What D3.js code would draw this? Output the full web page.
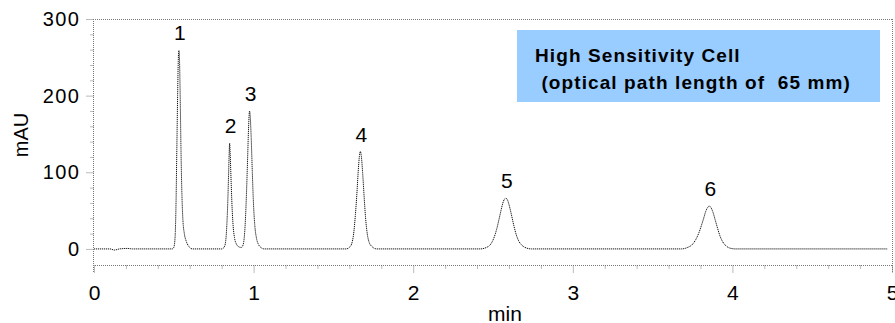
<!DOCTYPE html>
<html lang="en">
<head>
<meta charset="UTF-8">
<title>Chromatogram - High Sensitivity Cell</title>
<script src="https://d3js.org/d3.v7.min.js"></script>
<style>
  body { margin: 0; background: #fff; }
  text { font-family: "Liberation Sans", Arial, sans-serif; }
</style>
</head>
<body>
<svg id="chart" width="895" height="323"></svg>
<script>
// tick values
var xTicks = [0, 1, 2, 3, 4, 5];
var yTicks = [0, 100, 200, 300];

// peak labels (retention time in min, apex in mAU)
var peakNames = ["1", "2", "3", "4", "5", "6"];
var peakTimes = [0.532, 0.850, 0.975, 1.669, 2.580, 3.855];
var peakHeights = [259, 138, 180, 127, 66, 56];

// traced signal [min, mAU]
var trace = [
  [0.00, 0], [0.10, 0], [0.128, -1.5], [0.16, 0], [0.21, 0.6], [0.24, 0], [0.49, 0],
  [0.50, 2], [0.508, 15], [0.514, 60], [0.519, 130], [0.524, 200], [0.528, 245], [0.532, 259],
  [0.536, 245], [0.540, 200], [0.545, 130], [0.551, 70], [0.557, 38], [0.566, 20],
  [0.578, 10], [0.595, 3], [0.615, 0], [0.80, 0],
  [0.815, 2], [0.825, 10], [0.832, 30], [0.838, 60], [0.843, 95], [0.847, 125], [0.850, 138],
  [0.853, 125], [0.858, 95], [0.864, 60], [0.871, 32], [0.880, 15], [0.893, 6], [0.905, 3],
  [0.918, 2], [0.925, 2],
  [0.932, 4], [0.940, 12], [0.948, 35], [0.955, 70], [0.962, 115], [0.968, 155], [0.972, 175],
  [0.975, 180], [0.979, 172], [0.985, 145], [0.992, 100], [0.999, 60], [1.007, 32],
  [1.018, 14], [1.030, 6], [1.045, 2], [1.065, 0], [1.58, 0],
  [1.60, 2], [1.615, 7], [1.627, 20], [1.638, 45], [1.648, 75], [1.656, 103], [1.663, 121],
  [1.669, 127], [1.675, 121], [1.683, 100], [1.692, 70], [1.701, 42], [1.712, 20],
  [1.725, 8], [1.742, 3], [1.77, 0], [2.42, 0],
  [2.46, 2], [2.485, 6], [2.505, 14], [2.522, 25], [2.537, 38], [2.55, 50], [2.562, 60],
  [2.572, 65], [2.58, 66], [2.588, 65], [2.60, 58], [2.615, 45], [2.63, 31], [2.645, 19],
  [2.662, 10], [2.68, 5], [2.70, 2], [2.74, 0], [3.68, 0],
  [3.72, 2], [3.75, 6], [3.77, 12], [3.79, 21], [3.805, 30], [3.82, 40], [3.833, 49],
  [3.845, 54], [3.855, 56], [3.865, 54], [3.878, 48], [3.892, 38], [3.907, 27],
  [3.922, 17], [3.94, 9], [3.96, 4], [3.985, 1], [4.02, 0], [4.97, 0]
];

var legendLines = ["High Sensitivity Cell", " (optical path length of  65 mm)"];

var svg = d3.select("#chart");
var plotL = 93, plotR = 892, plotT = 19, plotB = 265;

var x = d3.scaleLinear().domain([0, 5]).range([94, 892]);
var y = d3.scaleLinear().domain([-21, 300]).range([plotB, plotT]);

var frameColor = "#777";

// frame
function dotted(x1, y1, x2, y2) {
  svg.append("line")
    .attr("x1", x1).attr("y1", y1).attr("x2", x2).attr("y2", y2)
    .attr("stroke", frameColor).attr("stroke-width", 1)
    .attr("stroke-dasharray", "1,1");
}
dotted(plotL + 0.5, plotT, plotL + 0.5, 273);
dotted(plotL, plotB + 0.5, plotR, plotB + 0.5);
dotted(plotL, plotT + 0.5, plotR, plotT + 0.5);
dotted(plotR + 0.5, plotT, plotR + 0.5, 273);

// y axis
var yMinor = d3.range(20, 300, 20).filter(function (d) { return d % 100 != 0; });
var gy = svg.append("g")
  .attr("transform", "translate(" + (plotL + 0.5) + ",0)")
  .call(d3.axisLeft(y).tickValues(yTicks).tickFormat(d3.format("d")).tickSize(7).tickPadding(6));
svg.append("g")
  .attr("transform", "translate(" + (plotL + 0.5) + ",0)")
  .call(d3.axisLeft(y).tickValues(yMinor).tickSize(3).tickFormat(""));

// x axis
var xMinor = d3.range(1, 25).map(function (d) { return d / 5; }).filter(function (d) { return d % 1 != 0; });
var gx = svg.append("g")
  .attr("transform", "translate(0," + (plotB + 0.5) + ")")
  .call(d3.axisBottom(x).tickValues(xTicks).tickFormat(d3.format("d")).tickSize(8).tickPadding(12));
svg.append("g")
  .attr("transform", "translate(0," + (plotB + 0.5) + ")")
  .call(d3.axisBottom(x).tickValues(xMinor).tickSize(4).tickFormat(""));

svg.selectAll(".domain").remove();
svg.selectAll(".tick line")
  .attr("stroke", frameColor)
  .attr("stroke-dasharray", "1,1");
svg.selectAll(".tick text")
  .attr("fill", "#000")
  .style("font-family", "'Liberation Sans', Arial, sans-serif");
gy.selectAll(".tick text")
  .style("font-size", "20px")
  .style("letter-spacing", "1.5px");
gx.selectAll(".tick text")
  .style("font-size", "21px");

// axis titles
svg.append("text")
  .attr("x", 505).attr("y", 321)
  .attr("text-anchor", "middle")
  .style("font-size", "21px")
  .text("min");
svg.append("text")
  .attr("transform", "translate(28,135) rotate(-90)")
  .attr("text-anchor", "middle")
  .style("font-size", "20px")
  .text("mAU");

// legend box
svg.append("rect")
  .attr("x", 517).attr("y", 30)
  .attr("width", 363).attr("height", 72)
  .attr("fill", "#99ccff");
svg.selectAll(".legend")
  .data(legendLines)
  .enter()
  .append("text")
  .attr("x", 535)
  .attr("y", function (d, i) { return 62 + i * 26.5; })
  .style("font-size", "19px")
  .style("font-weight", "bold")
  .style("letter-spacing", "1.1px")
  .style("white-space", "pre")
  .text(function (d) { return d; });

// signal
var line = d3.line()
  .x(function (d) { return x(d[0]); })
  .y(function (d) { return y(d[1]); })
  .curve(d3.curveMonotoneX);

svg.append("path")
  .datum(trace)
  .attr("d", line)
  .attr("fill", "none")
  .attr("stroke", "#111")
  .attr("stroke-width", 1)
  .attr("stroke-dasharray", "1.2,0.8");

// peak labels
svg.selectAll(".peak")
  .data(peakNames)
  .enter()
  .append("text")
  .attr("x", function (d, i) { return x(peakTimes[i]) + 1; })
  .attr("y", function (d, i) { return y(peakHeights[i]) - 10; })
  .attr("text-anchor", "middle")
  .style("font-size", "21px")
  .text(function (d) { return d; });
</script>
</body>
</html>
